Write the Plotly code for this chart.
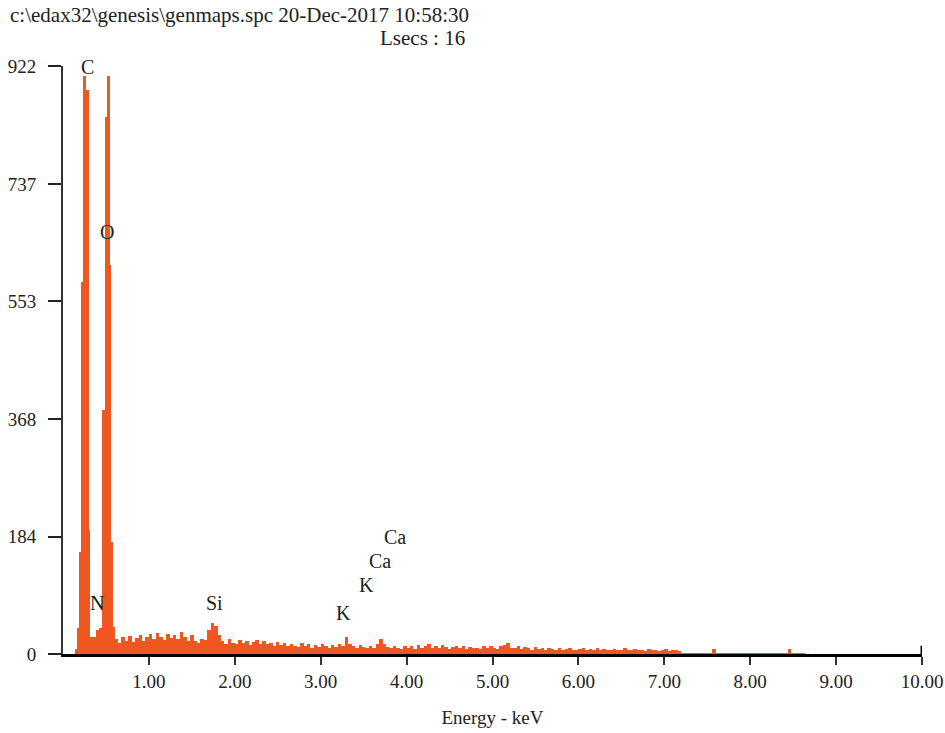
import plotly.graph_objects as go

# ---- Data ----
# Peak region: channel left edges (keV) and counts
peak_energy = [0.14, 0.17, 0.19, 0.21, 0.23, 0.265, 0.30, 0.32, 0.38, 0.43, 0.45, 0.49, 0.51, 0.545, 0.555, 0.58]
peak_counts = [8, 40, 160, 583, 907, 884, 194, 27, 37, 40, 382, 842, 907, 610, 176, 42]

# Background / minor peaks: 0.04 keV channels starting at 0.60 keV
noise_start = 0.60
noise_step = 0.04
noise_counts = [
    24, 18, 26, 20, 28, 19, 25, 30, 21, 27,
    31, 24, 33, 27, 22, 32, 25, 30, 23, 34, 26, 21, 30,
    20, 17, 24, 22,
    38, 48, 44, 30,
    20, 16, 24, 18, 15, 22, 17, 20, 14, 19,
    22, 16, 20, 15, 18, 13, 19, 14, 17, 12,
    16, 13, 11, 17, 12, 15, 10, 14, 11, 15,
    12, 10, 14, 11, 15, 12,
    26, 16,
    12, 10, 14, 11, 10, 13, 9,
    16, 23, 15,
    11, 9, 13, 10, 8, 12,
    10, 13, 8, 14, 9, 12, 15, 10, 13, 9, 14, 11, 8, 11, 13, 9, 12, 8, 11, 9,
    10, 8, 12, 9, 13, 10, 8, 12, 14, 18, 10, 9, 12, 8, 11, 9, 7, 11, 8, 9,
    7, 9, 8, 6, 9, 7, 8, 10, 7, 6, 8, 9, 7, 8, 6, 9, 7, 8, 6, 7,
    8, 6, 7, 9, 6, 7, 8, 6, 7, 5, 8, 6, 7, 5, 6, 8, 5, 6, 7, 5,
    1, 1, 1, 1, 1, 1, 1, 1, 1, 8, 1, 1, 1, 1, 1, 1, 1, 1, 1, 1,
    1, 1, 1, 1, 1, 1, 1, 1, 1, 1, 1, 8, 1, 1, 1, 1,
]

x_ticks = [1, 2, 3, 4, 5, 6, 7, 8, 9, 10]
x_ticklabels = ["1.00", "2.00", "3.00", "4.00", "5.00", "6.00", "7.00", "8.00", "9.00", "10.00"]
y_ticks = [0, 184, 368, 553, 737, 922]
y_ticklabels = ["0", "184", "368", "553", "737", "922"]

labels = ["C", "O", "N", "Si", "K", "K", "Ca", "Ca"]
label_x = [0.29, 0.513, 0.396, 1.758, 3.27, 3.53, 3.69, 3.865]
label_y = [920, 661, 80, 80, 64, 108, 146, 183]

header_line1 = "c:\\edax32\\genesis\\genmaps.spc 20-Dec-2017 10:58:30"
header_line2 = "Lsecs : 16"

# ---- Build channels ----
noise_energy = [noise_start + i * noise_step for i in range(len(noise_counts))]
energy = peak_energy + noise_energy
counts = peak_counts + noise_counts
widths = [energy[i + 1] - energy[i] for i in range(len(energy) - 1)] + [noise_step]

FONT = "Liberation Serif"
COLOR = "#F0561F"

fig = go.Figure()
fig.add_trace(go.Bar(
    x=energy, y=counts, width=widths, offset=0,
    marker=dict(color=COLOR, line=dict(width=0)),
    showlegend=False, hoverinfo="x+y",
))

for t, lx, ly in zip(labels, label_x, label_y):
    fig.add_annotation(x=lx, y=ly, text=t, showarrow=False,
                       font=dict(family=FONT, size=20, color="#222"))

fig.add_annotation(xref="paper", yref="paper", x=-0.064, y=1.087, text=header_line1,
                   showarrow=False, xanchor="left", yanchor="middle",
                   font=dict(family=FONT, size=21, color="#222"))
fig.add_annotation(xref="paper", yref="paper", x=0.470, y=1.048, text=header_line2,
                   showarrow=False, xanchor="right", yanchor="middle",
                   font=dict(family=FONT, size=21, color="#222"))

# end tick at 10.00 extending upward
fig.add_shape(type="line", xref="x", yref="paper", x0=10, x1=10, y0=0, y1=0.014,
              line=dict(color="black", width=3))

fig.update_layout(
    width=945, height=733,
    margin=dict(l=63, r=23, t=66, b=79),
    paper_bgcolor="white", plot_bgcolor="white",
    bargap=0,
    font=dict(family=FONT, size=19, color="#222"),
    xaxis=dict(
        range=[0, 10], tickvals=x_ticks, ticktext=x_ticklabels,
        ticks="outside", ticklen=8, tickwidth=2, tickcolor="#333",
        showline=True, linewidth=3, linecolor="black",
        showgrid=False, zeroline=False, automargin=False,
        title=dict(text="Energy - keV", font=dict(family=FONT, size=19), standoff=20),
    ),
    yaxis=dict(
        range=[0, 922], tickvals=y_ticks, ticktext=y_ticklabels,
        ticks="outside", ticklen=13, tickwidth=2, tickcolor="#222",
        showline=True, linewidth=2, linecolor="#333",
        showgrid=False, zeroline=False, ticklabelstandoff=8, automargin=False,
    ),
)

fig.write_html(
    "out.html",
    config={"displayModeBar": False},
    post_script="document.body.style.margin='0';document.body.style.overflow='hidden';",
)
